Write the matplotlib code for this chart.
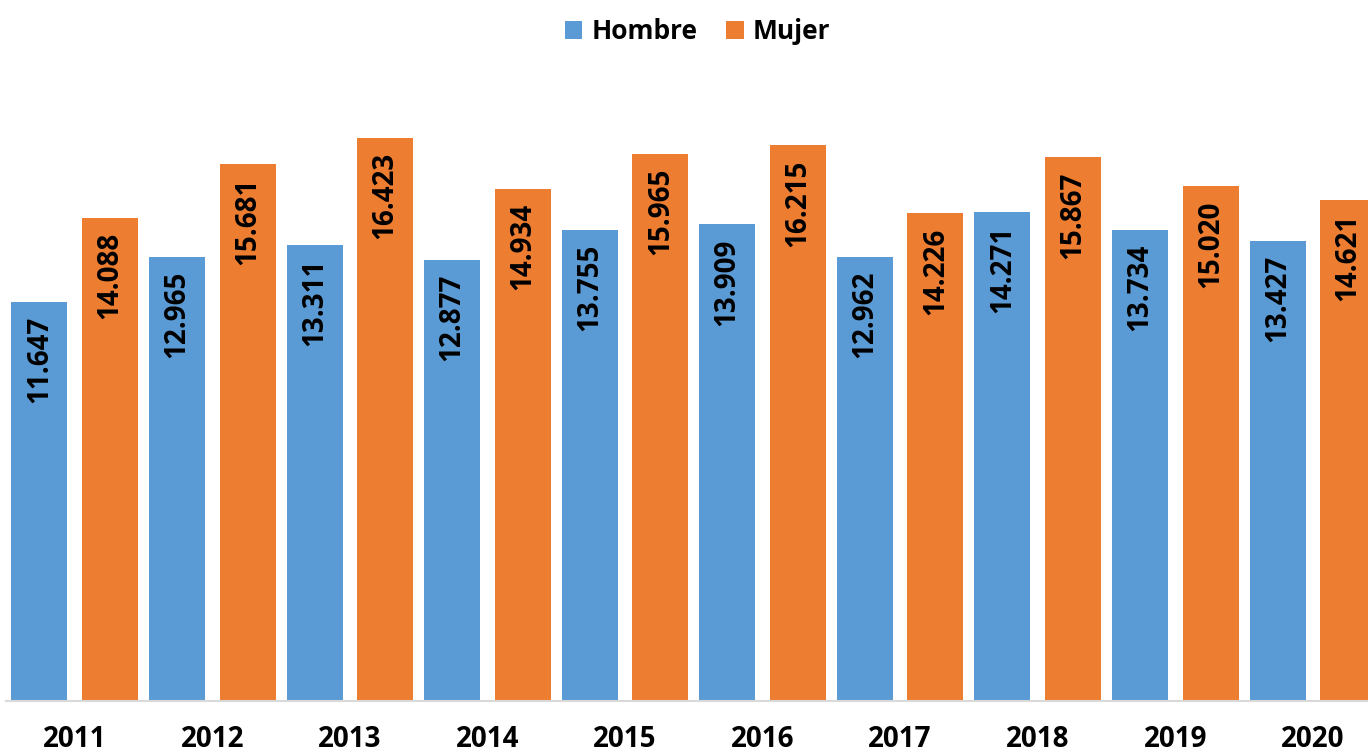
import matplotlib
matplotlib.use("Agg")
import matplotlib.pyplot as plt
import numpy as np

years = ["2011", "2012", "2013", "2014", "2015", "2016", "2017", "2018", "2019", "2020"]
hombre = [11647, 12965, 13311, 12877, 13755, 13909, 12962, 14271, 13734, 13427]
mujer = [14088, 15681, 16423, 14934, 15965, 16215, 14226, 15867, 15020, 14621]

BLUE = "#5B9BD5"
ORANGE = "#ED7D31"
FONT = "Open Sans"

W, H = 1368, 756
fig = plt.figure(figsize=(W / 100, H / 100), dpi=100)
px_per_unit = 34.27 / 1000.0
ymax = 18000
base_y = 701
ax_h = ymax * px_per_unit
ax = fig.add_axes([6 / W, (H - base_y) / H, 1375.6 / W, ax_h / H])

x = np.arange(len(years))
bw = 0.407
off = 0.2566
b1 = ax.bar(x - off, hombre, bw, color=BLUE, label="Hombre")
b2 = ax.bar(x + off, mujer, bw, color=ORANGE, label="Mujer")

def fmt(v):
    return f"{v:,}".replace(",", ".")

for xs, vals in ((x - off, hombre), (x + off, mujer)):
    for xi, v in zip(xs, vals):
        ax.annotate(fmt(v), (xi, v), xytext=(0, -10), textcoords="offset points",
                    ha="center", va="top", rotation=90, fontsize=20,
                    fontweight="bold", family=FONT, color="black")

ax.set_xlim(-0.5, 9.5)
ax.set_ylim(0, ymax)
ax.set_xticks(x)
ax.set_xticklabels(years, fontsize=20, fontweight="bold", family=FONT)
ax.tick_params(axis="x", length=0, pad=17)
ax.set_yticks([])
for s in ("top", "right", "left"):
    ax.spines[s].set_visible(False)
ax.spines["bottom"].set_color("#D9D9D9")
ax.spines["bottom"].set_linewidth(1.5)

fig.legend(handles=[b1, b2], loc="upper center", bbox_to_anchor=(0.51, 1.0),
           ncol=2, frameon=False, prop={"family": FONT, "weight": "bold", "size": 19},
           handlelength=0.65, handleheight=0.65, handletextpad=0.35, columnspacing=1.1,
           borderaxespad=0.3)

fig.savefig("out.png", dpi=100)
